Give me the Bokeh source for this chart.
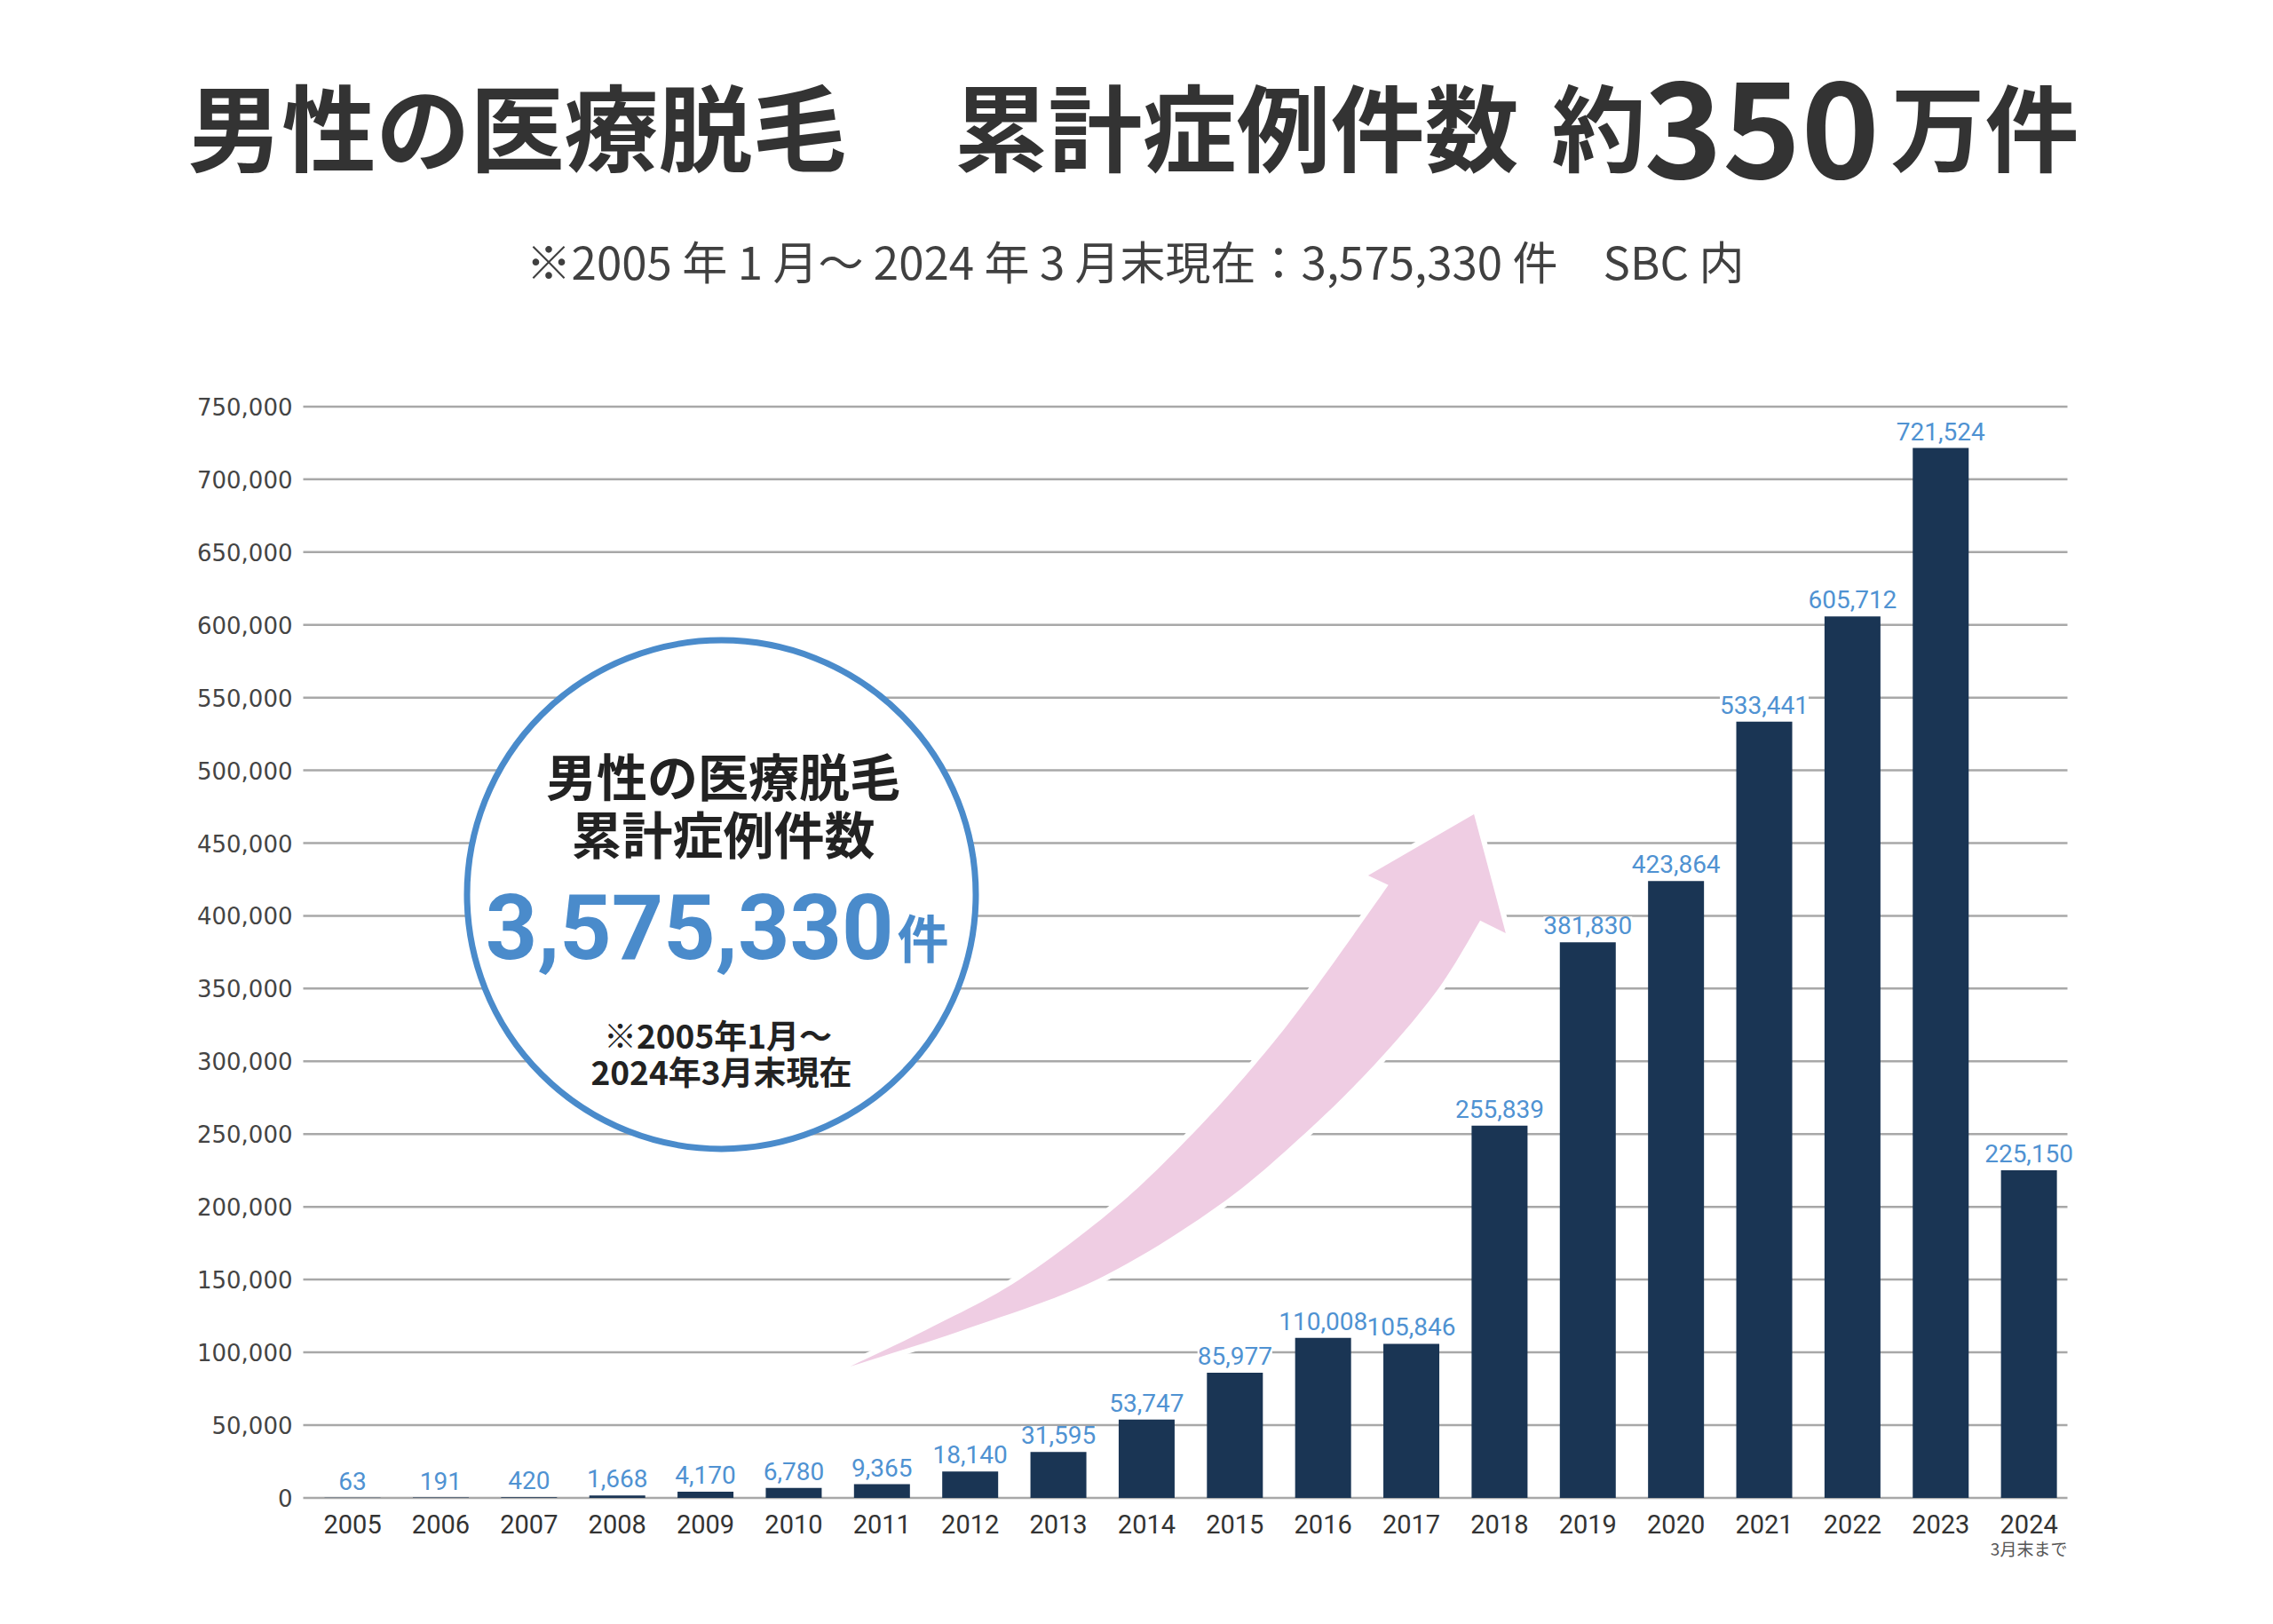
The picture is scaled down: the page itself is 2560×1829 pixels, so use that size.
from bokeh.plotting import figure
from bokeh.models import (Range1d, FixedTicker, NumeralTickFormatter, LinearAxis,
                          LabelSet, ColumnDataSource)
from bokeh.core.properties import value
from bokeh.embed import file_html
from bokeh.resources import INLINE

# ---------------- data ----------------
years = ["2005", "2006", "2007", "2008", "2009", "2010", "2011", "2012", "2013", "2014",
         "2015", "2016", "2017", "2018", "2019", "2020", "2021", "2022", "2023", "2024"]
cases = [63, 191, 420, 1668, 4170, 6780, 9365, 18140, 31595, 53747,
         85977, 110008, 105846, 255839, 381830, 423864, 533441, 605712, 721524, 225150]
y_ticks = [0, 50000, 100000, 150000, 200000, 250000, 300000, 350000,
           400000, 450000, 500000, 550000, 600000, 650000, 700000, 750000]
last_year_note = "3月末まで"
title_left = "男性の医療脱毛"
title_mid = "累計症例件数"
title_approx = "約"
title_num = "350"
title_unit = "万件"
subtitle = "※2005 年 1 月～ 2024 年 3 月末現在：3,575,330 件　SBC 内"
circle_line1 = "男性の医療脱毛"
circle_line2 = "累計症例件数"
circle_note1 = "※2005年1月～"
circle_note2 = "2024年3月末現在"

total = sum(cases)

# ---------------- styles / layout ----------------
JP = "Noto Sans CJK JP"
NUMF = "Roboto"
BAR = "#1a3554"
BLUE = "#4f92d2"
RING = "#4a8bcb"
PINK = "#efcde3"
GRID = "#a8a8a8"
DARK = "#333333"

W, H = 2544, 1813
XZ, ZERO = 396.6, 1686.4       # pixel position of x=0 (first bar) and y=0
PXU = 99.37                     # px per category
pxv = 1229 / 750000             # px per case
F_LEFT, F_RIGHT, F_TOP, F_BOTTOM = 200, 2534, 10, 1695


def dx(px):
    return (px - XZ) / PXU


def dy(py):
    return (ZERO - py) / pxv


idx = list(range(len(years)))

p = figure(width=W, height=H, x_range=Range1d(dx(F_LEFT), dx(F_RIGHT)),
           y_range=Range1d(dy(F_BOTTOM), dy(F_TOP)), output_backend="svg",
           toolbar_location=None,
           min_border_left=F_LEFT, min_border_right=W - F_RIGHT,
           min_border_top=F_TOP, min_border_bottom=H - F_BOTTOM)
p.outline_line_color = None
p.xgrid.visible = False
p.ygrid.visible = False
p.background_fill_color = "white"


def txt(xp, yp, s, size, color=DARK, style="bold", align="left", font=JP,
        baseline="middle"):
    p.text(x=[dx(xp)], y=[dy(yp)], text=[s], text_font=value(font),
           text_font_size=size, text_font_style=style, text_color=color,
           text_align=align, text_baseline=baseline)


# ---------------- titles ----------------
txt(211, 138, title_left, "106px")
txt(1074, 138, title_mid, "106px")
txt(1747, 138, title_approx, "106px")
txt(1851, 145, title_num, "150px")
txt(2129, 138, title_unit, "106px")
txt(1278, 292, subtitle, "51px", color="#404040", style="normal", align="center")

# ---------------- grid lines ----------------
n = len(y_ticks)
p.segment(x0=[dx(341)] * n, y0=y_ticks, x1=[dx(2328)] * n, y1=y_ticks,
          line_color=GRID, line_width=2.5)

# ---------------- decorative arrow ----------------
def catmull(pts, steps=12):
    out = []
    P = [pts[0]] + pts + [pts[-1]]
    for i in range(1, len(P) - 2):
        p0, p1, p2, p3 = P[i - 1], P[i], P[i + 1], P[i + 2]
        for s in range(steps):
            u = s / steps
            u2, u3 = u * u, u * u * u
            out.append(tuple(0.5 * ((2 * p1[k]) + (-p0[k] + p2[k]) * u +
                                    (2 * p0[k] - 5 * p1[k] + 4 * p2[k] - p3[k]) * u2 +
                                    (-p0[k] + 3 * p1[k] - 3 * p2[k] + p3[k]) * u3)
                             for k in range(2)))
    out.append(pts[-1])
    return out


lower = [(5.64, 90300), (6.98, 116600), (8.44, 150100), (9.80, 200200), (10.80, 250800),
         (11.64, 301500), (12.31, 350300), (12.78, 396700)]
upper = [(11.74, 421100), (10.91, 350300), (10.28, 301500), (9.53, 250800),
         (8.66, 200200), (7.56, 150100), (6.58, 117800), (5.64, 90300)]
head = [(13.07, 388100), (12.71, 469900), (11.51, 427800)]
shape = catmull(lower) + head + catmull(upper)
ax = [q[0] for q in shape]
ay = [q[1] for q in shape]
p.patch(ax, ay, fill_color=PINK, line_color="white", line_width=12)
p.patch(ax, ay, fill_color=PINK, line_color=None)

# ---------------- circle badge ----------------
p.scatter(x=[dx(812)], y=[dy(1007)], marker="circle", size=573, fill_color="white",
          line_color=RING, line_width=7)
txt(814, 871, circle_line1, "57px", color="#222222", align="center")
txt(814, 936, circle_line2, "57px", color="#222222", align="center")
txt(1006, 1043, f"{total:,}", "102px", color=RING, align="right", font=NUMF)
txt(1010, 1053, "件", "58px", color=RING)
txt(808, 1164, circle_note1, "37px", color="#222222", align="center")
txt(812, 1205, circle_note2, "37px", color="#222222", align="center")

# ---------------- bars ----------------
src = ColumnDataSource(dict(x=idx, top=cases, label=[f"{v:,}" for v in cases]))
p.vbar(x="x", top="top", width=0.634, source=src, fill_color=BAR, line_color=None)

labels = LabelSet(x="x", y="top", text="label", source=src, text_align="center",
                  text_baseline="alphabetic", y_offset=9, text_font=value(NUMF),
                  text_font_size="28px", text_color=BLUE,
                  background_fill_color="white")
p.add_layout(labels)

# ---------------- axes ----------------
p.yaxis.ticker = FixedTicker(ticks=y_ticks)
p.yaxis.formatter = NumeralTickFormatter(format="0,0")
p.yaxis.axis_line_color = None
p.yaxis.major_tick_line_color = None
p.yaxis.minor_tick_line_color = None
p.yaxis.major_tick_out = 0
p.yaxis.major_tick_in = 0
p.yaxis.major_label_standoff = -129
p.yaxis.major_label_text_font = "DejaVu Sans"
p.yaxis.major_label_text_font_size = "26px"
p.yaxis.major_label_text_color = "#444444"

p.xaxis.ticker = FixedTicker(ticks=idx)
p.xaxis.major_label_overrides = {i: y for i, y in zip(idx, years)}
p.xaxis.axis_line_color = None
p.xaxis.major_tick_line_color = None
p.xaxis.minor_tick_line_color = None
p.xaxis.major_tick_out = 0
p.xaxis.major_label_standoff = 10
p.xaxis.major_label_text_font = NUMF
p.xaxis.major_label_text_font_size = "29px"
p.xaxis.major_label_text_color = DARK

note_axis = LinearAxis(ticker=FixedTicker(ticks=[idx[-1]]),
                       major_label_overrides={idx[-1]: last_year_note})
note_axis.axis_line_color = None
note_axis.major_tick_line_color = None
note_axis.minor_tick_line_color = None
note_axis.major_tick_out = 0
note_axis.major_label_standoff = 0
note_axis.major_label_text_font = JP
note_axis.major_label_text_font_size = "19px"
note_axis.major_label_text_color = "#555555"
p.add_layout(note_axis, "below")

open("out.html", "w").write(file_html(p, INLINE))
